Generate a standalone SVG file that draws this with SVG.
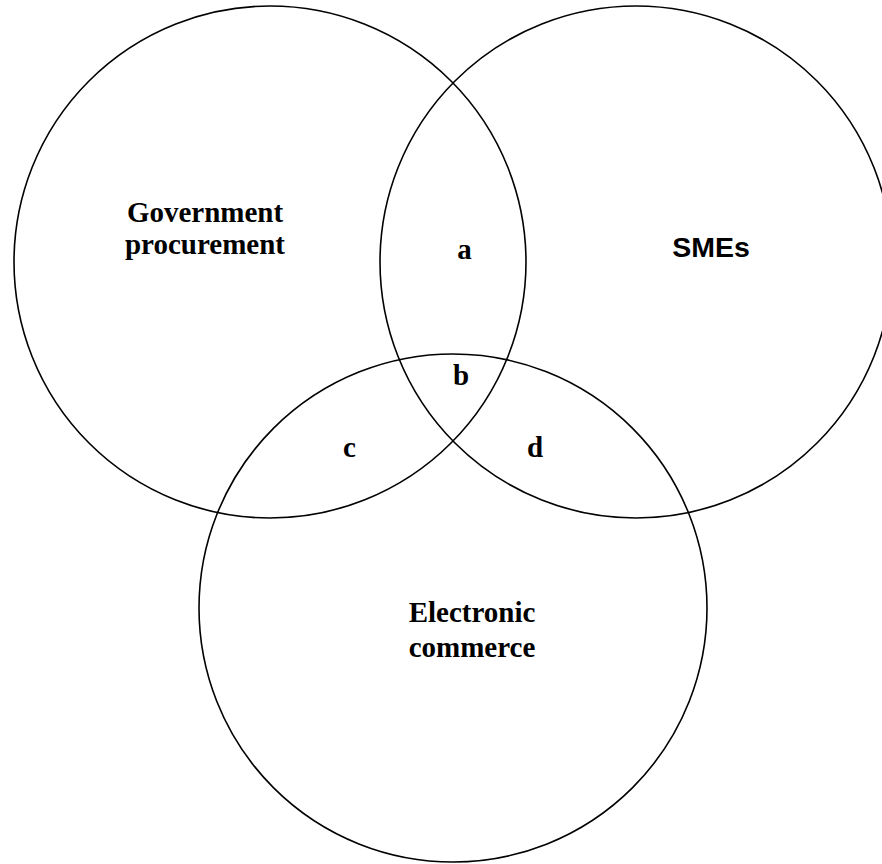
<svg xmlns="http://www.w3.org/2000/svg" width="882" height="864" viewBox="0 0 882 864">
<style>
.c{fill:none;stroke:#000;stroke-width:1.6}
.t{font-family:"Liberation Serif","Times New Roman",serif;font-weight:bold;font-size:29px;fill:#000;text-anchor:middle}
.s{font-family:"Liberation Sans",Arial,sans-serif;font-weight:bold;font-size:28.5px;fill:#000;text-anchor:middle}
</style>
<rect width="882" height="864" fill="#fff"/>
<g id="gov">
<circle class="c" cx="270" cy="262" r="256"/>
<text class="t" x="205" y="222">Government</text>
<text class="t" x="205" y="254">procurement</text>
</g>
<g id="smes">
<circle class="c" cx="636" cy="262" r="256"/>
<text class="s" x="711" y="257">SMEs</text>
</g>
<g id="ecom">
<circle class="c" cx="453" cy="608" r="254"/>
<text class="t" x="472" y="622">Electronic</text>
<text class="t" x="472" y="657">commerce</text>
</g>
<g id="labels">
<text class="t" x="464.5" y="259">a</text>
<text class="t" x="461" y="385">b</text>
<text class="t" x="349.5" y="457">c</text>
<text class="t" x="535" y="457">d</text>
</g>
</svg>
